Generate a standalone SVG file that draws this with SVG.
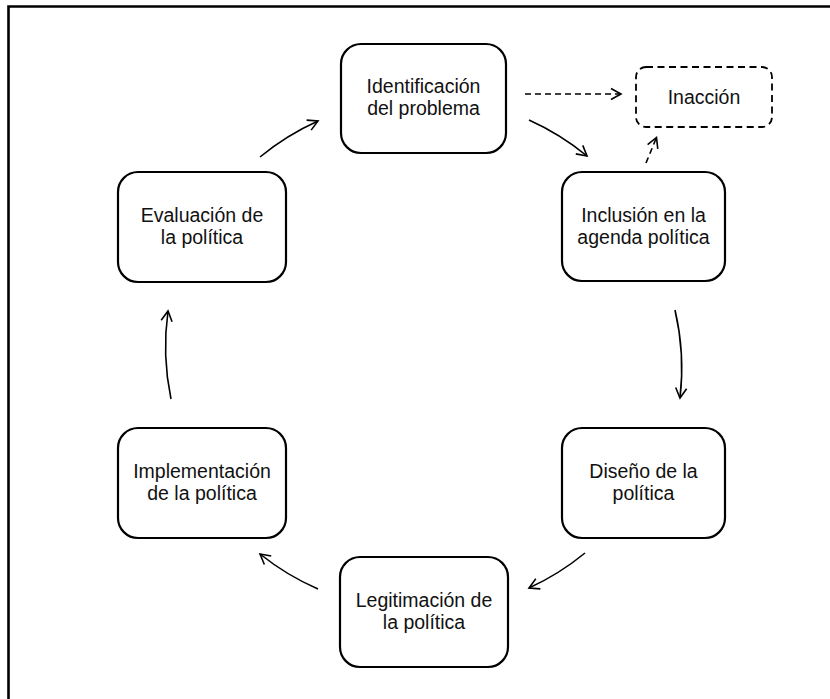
<svg xmlns="http://www.w3.org/2000/svg" width="830" height="699" viewBox="0 0 830 699">
  <style>
    .box { fill: #ffffff; stroke: #000000; stroke-width: 2.2; }
    .dashbox { fill: #ffffff; stroke: #000000; stroke-width: 1.8; stroke-dasharray: 7 4.5; }
    .label { font-family: "Liberation Sans", Arial, sans-serif; font-size: 19.5px; fill: #111111; text-anchor: middle; }
    .edge { fill: none; stroke: #000000; stroke-width: 1.6; marker-end: url(#chev); }
    .dashed { stroke-dasharray: 6 4; }
  </style>
  <defs>
    <marker id="chev" markerUnits="userSpaceOnUse" markerWidth="16" markerHeight="16" refX="11" refY="6" orient="auto" overflow="visible">
      <path d="M1,0.5 L11,6 L1,11.5" fill="none" stroke="#000000" stroke-width="1.6" stroke-linejoin="miter"/>
    </marker>
  </defs>

  <rect width="830" height="699" fill="#ffffff"/>
  <!-- outer frame -->
  <path d="M8.5,699 V6.5 H830" fill="none" stroke="#000000" stroke-width="2.6"/>

  <!-- connectors: arcs of the policy cycle -->
  <g id="connectors">
    <path class="edge dashed" d="M525,94 H621"/>
    <path class="edge" d="M529,120 A257 257 0 0 1 587,156"/>
    <path class="edge dashed" d="M646,163 L656.5,137.5"/>
    <path class="edge" d="M675,310 A257 257 0 0 1 680,398"/>
    <path class="edge" d="M585,553 A257 257 0 0 1 529,588"/>
    <path class="edge" d="M318,589 A257 257 0 0 1 260,554"/>
    <path class="edge" d="M171,399 A257 257 0 0 1 168,311"/>
    <path class="edge" d="M260,157 A257 257 0 0 1 318,121"/>
  </g>

  <g id="identificacion">
    <rect class="box" x="341" y="44" width="165" height="109" rx="20"/>
    <text class="label" x="423.5" y="93">Identificación<tspan x="423.5" dy="22">del problema</tspan></text>
  </g>

  <g id="inaccion">
    <rect class="dashbox" x="636" y="67" width="136" height="60" rx="10"/>
    <text class="label" x="704" y="104">Inacción</text>
  </g>

  <g id="inclusion">
    <rect class="box" x="562" y="172" width="163" height="109" rx="20"/>
    <text class="label" x="643.5" y="221.5">Inclusión en la<tspan x="643.5" dy="22">agenda política</tspan></text>
  </g>

  <g id="diseno">
    <rect class="box" x="562" y="428" width="163" height="110" rx="20"/>
    <text class="label" x="643.5" y="477.5">Diseño de la<tspan x="643.5" dy="22">política</tspan></text>
  </g>

  <g id="legitimacion">
    <rect class="box" x="340" y="557" width="168" height="110" rx="20"/>
    <text class="label" x="424" y="606.5">Legitimación de<tspan x="424" dy="22">la política</tspan></text>
  </g>

  <g id="implementacion">
    <rect class="box" x="118" y="428" width="168" height="110" rx="20"/>
    <text class="label" x="202" y="477.5">Implementación<tspan x="202" dy="22">de la política</tspan></text>
  </g>

  <g id="evaluacion">
    <rect class="box" x="118" y="172" width="168" height="110" rx="20"/>
    <text class="label" x="202" y="221.5">Evaluación de<tspan x="202" dy="22">la política</tspan></text>
  </g>
</svg>
